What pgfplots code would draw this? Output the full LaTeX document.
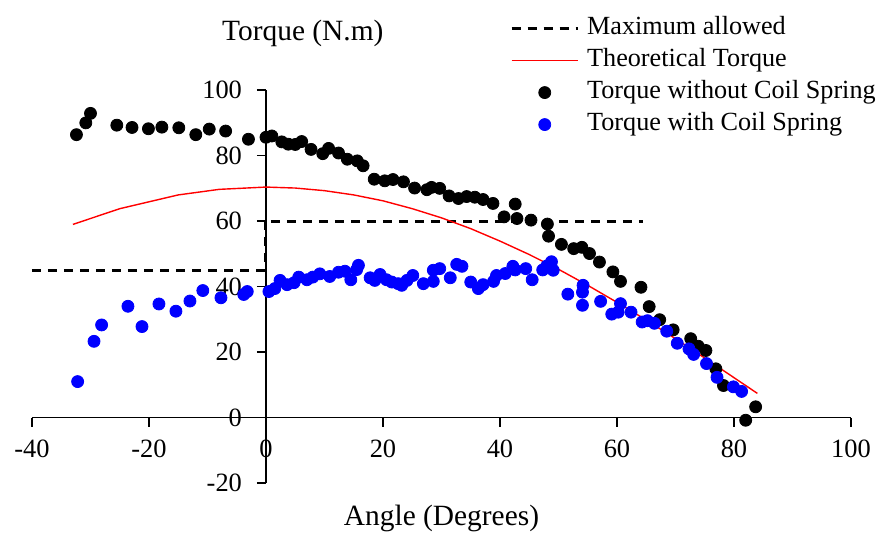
\documentclass[border=0pt]{standalone}
\usepackage{fontspec}
\setmainfont{Liberation Serif}
\usepackage{pgfplots}
\pgfplotsset{compat=1.18}

\begin{document}
\begin{tikzpicture}[font=\fontsize{13.2}{15.8}\selectfont]
\begin{axis}[
    set layers,
    scale only axis,
    width=409.5pt, height=196.5pt,
    xmin=-40, xmax=100,
    ymin=-20, ymax=100,
    axis lines=middle,
    axis line style={-, line width=0.8pt},
    every inner x axis line/.append style={-},
    every inner y axis line/.append style={-},
    tick align=outside,
    major tick length=4.5pt,
    tick style={black, line width=0.8pt},
    xtick={-40,-20,0,20,40,60,80,100},
    xticklabels={-40,-20,0,20,40,60,80,100},
    ytick={-20,0,20,40,60,80,100},
    yticklabels={-20,0,20,40,60,80,100},
    hide obscured x ticks=false,
    hide obscured y ticks=false,
    x tick label style={yshift=-3pt},
    y tick label style={xshift=-4pt},
    clip=false,
    legend cell align=left,
    legend image code/.code={
        \draw[mark repeat=2, mark phase=2, #1]
            plot coordinates {(0pt,0pt) (16.5pt,0pt) (33pt,0pt)};
    },
    legend style={
        draw=none, fill=none,
        at={(axis cs:41.7,123.8)}, anchor=north west,
        inner sep=0pt, row sep=0pt, column sep=2pt,
        nodes={inner sep=2pt, text height=9pt, text depth=3pt},
        font=\fontsize{13.1}{16}\selectfont
    },
]

% maximum allowed
\addplot[black, line width=1.4pt, dash pattern=on 4.5pt off 3.5pt]
    coordinates {(-40,45) (0,45) (0,60) (64.5,60)};
\addlegendentry{Maximum allowed}
\addplot[black, line width=1.5pt, dash pattern=on 4.5pt off 3.5pt, forget plot]
    coordinates {(0,60) (0,45)};

% theoretical
\addplot[red, line width=0.7pt]
    coordinates {
    (-33,59.0) (-25,63.8) (-15,68.0) (-8,69.7) (0,70.4) (5,70.1) (10,69.3)
    (15,68.0) (20,66.2) (25,63.8) (30,61.0) (35,57.7) (40,53.9) (45,49.8)
    (50,45.3) (55,40.4) (60,35.2) (65,29.8) (70,24.1) (75,18.2) (80,12.2)
    (84,7.4)
    };
\addlegendentry{Theoretical Torque}

% without spring
\addplot[only marks, mark=*, mark size=3pt, black, mark options={fill=black, draw=black}]
    coordinates {
    (-32.4,86.4) (-30.8,90.0) (-30.0,92.9) (-25.5,89.3) (-22.9,88.6)
    (-20.1,88.2) (-17.8,88.7) (-14.9,88.5) (-12.0,86.4) (-9.7,88.1)
    (-6.9,87.5) (-3.0,85.0) (0.0,85.6) (1.0,86.0) (2.7,84.2) (3.8,83.5)
    (5.0,83.4) (6.1,84.3) (7.7,81.9) (9.7,80.6) (10.7,82.2) (12.4,80.8)
    (13.9,78.9) (15.6,78.4) (16.6,76.9) (18.5,72.8) (20.3,72.3) (21.7,72.7)
    (23.5,72.0) (25.4,70.1) (27.5,69.6) (28.3,70.3) (29.7,70.0) (31.3,67.7)
    (32.9,66.9) (34.3,67.5) (35.7,67.3) (37.1,66.6) (38.8,65.4) (40.7,61.3)
    (42.6,65.2) (42.9,60.8) (45.3,60.3) (48.1,59.1) (48.3,55.4) (50.5,52.9)
    (52.6,51.6) (54.0,52.0) (55.3,50.1) (57.0,47.5) (59.3,44.5) (60.6,41.6)
    (64.1,39.8) (65.5,33.9) (67.3,29.9) (69.6,26.8) (72.6,24.1) (73.9,21.8)
    (75.2,20.5) (76.9,14.9) (78.2,9.8) (82.0,-0.8) (83.7,3.3)
    };
\addlegendentry{Torque without Coil Spring}

% with spring
\addplot[only marks, mark=*, mark size=3pt, blue, mark options={fill=blue, draw=blue}]
    coordinates {
    (-32.2,11.0) (-29.4,23.3) (-28.1,28.3) (-23.6,34.0) (-21.2,27.8)
    (-18.3,34.7) (-15.4,32.5) (-13.0,35.6) (-10.8,38.8) (-7.7,36.6)
    (-3.8,37.6) (-3.2,38.5) (0.5,38.5) (1.5,39.4) (2.4,41.9) (3.6,40.6)
    (4.8,41.2) (5.6,42.9) (7.0,42.1) (8.0,42.9) (9.2,43.9) (10.9,43.1)
    (12.4,44.4) (13.5,44.7) (14.5,42.1) (15.5,45.2) (15.8,46.5) (17.8,42.7)
    (18.6,41.9) (19.5,43.7) (20.6,42.1) (21.5,41.4) (22.6,40.9) (23.2,40.4)
    (24.1,41.9) (25.1,43.4) (26.9,40.9) (28.6,41.6) (28.6,45.0) (29.7,45.5)
    (31.5,42.7) (32.6,46.8) (33.5,46.2) (35.0,41.4) (36.3,39.4) (37.1,40.6)
    (38.9,41.6) (39.4,43.4) (40.9,44.0) (42.2,46.2) (42.6,45.1) (44.4,45.5)
    (45.5,42.1) (47.3,45.1) (48.0,46.3) (48.8,47.6) (49.1,45.0) (51.6,37.7)
    (54.2,40.4) (54.1,38.3) (54.1,34.3) (57.2,35.5) (59.1,31.6) (60.2,32.2)
    (60.6,34.8) (62.4,32.2) (64.3,29.2) (65.2,29.6) (66.4,28.8) (68.5,26.4)
    (70.3,22.7) (72.3,21.0) (73.1,19.3) (75.3,16.5) (77.1,12.3) (79.9,9.4)
    (81.3,8.0)
    };
\addlegendentry{Torque with Coil Spring}

\node[font=\fontsize{14.7}{17.6}\selectfont] at (axis cs:6.3,117.4) {Torque (N.m)};
\node[font=\fontsize{14.7}{17.6}\selectfont] at (axis cs:30,-30.9) {Angle (Degrees)};

\coordinate (BL) at (axis cs:-45.47,-35.17);
\coordinate (TR) at (axis cs:104.96,127.52);
\end{axis}
\pgfresetboundingbox
\path[use as bounding box] (BL) rectangle (TR);
\end{tikzpicture}
\end{document}
